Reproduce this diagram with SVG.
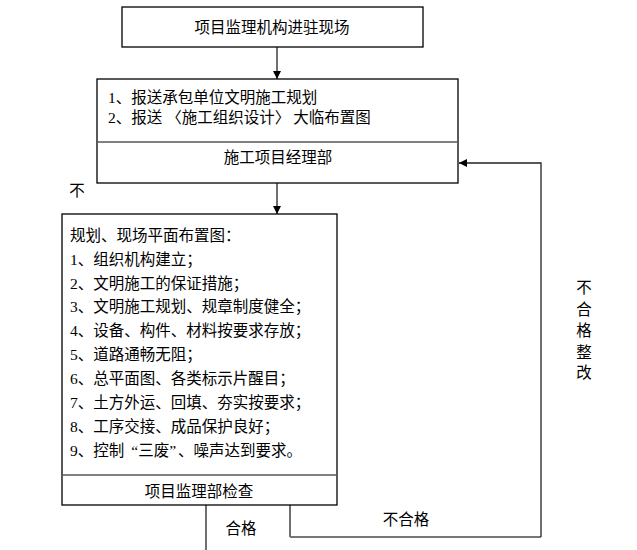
<svg xmlns="http://www.w3.org/2000/svg" width="637" height="550" viewBox="0 0 637 550">
<defs>
<style>
text{font-family:"Liberation Serif","Noto Sans CJK SC",serif;font-size:15.5px;fill:#000}
.box{fill:#fff;stroke:#000;stroke-width:1.3}
.div{stroke:#808080;stroke-width:2}
.ln{fill:none;stroke:#222;stroke-width:1.3}
.gl{fill:none;stroke:#777;stroke-width:2}
.c{text-anchor:middle}
</style>
<marker id="ah" viewBox="0 0 10 10" refX="10" refY="5" markerWidth="8" markerHeight="8" markerUnits="userSpaceOnUse" orient="auto">
<path d="M0,0 L10,5 L0,10 z" fill="#000"/>
</marker>
</defs>
<rect width="637" height="550" fill="#fff"/>
<g id="connectors">
<line class="ln" x1="277" y1="47" x2="277" y2="79" marker-end="url(#ah)"/>
<line class="ln" x1="277" y1="183" x2="277" y2="214" marker-end="url(#ah)"/>
<polyline class="ln" points="290,505 290,537"/>
<polyline class="gl" points="290,537 541,537"/>
<polyline class="ln" points="541,537 541,163 459,163" marker-end="url(#ah)"/>
<line class="ln" x1="206" y1="505" x2="206" y2="550"/>
<text x="241" y="534" class="c">合格</text>
<text x="406" y="525" class="c">不合格</text>
<text x="584" y="293" class="c">不</text>
<text x="584" y="315" class="c">合</text>
<text x="584" y="336" class="c">格</text>
<text x="584" y="358" class="c">整</text>
<text x="584" y="378" class="c">改</text>
<text x="77" y="196" class="c">不</text>
</g>
<g id="node1">
<rect class="box" x="122" y="7" width="301" height="40"/>
<text x="272" y="33" class="c">项目监理机构进驻现场</text>
</g>
<g id="node2">
<rect class="box" x="97" y="79" width="361" height="104"/>
<line class="div" x1="98" y1="142" x2="457" y2="142"/>
<text x="108" y="103">1、报送承包单位文明施工规划</text>
<text x="108" y="123">2、报送<tspan dx="4">〈施工组织设计〉</tspan><tspan dx="3">大临布置图</tspan></text>
<text x="278" y="163" class="c">施工项目经理部</text>
</g>
<g id="node3">
<rect class="box" x="62" y="214" width="275" height="291"/>
<line class="div" x1="63" y1="475" x2="336" y2="475"/>
<text x="70" y="241">规划、现场平面布置图：</text>
<text x="70" y="265">1、组织机构建立；</text>
<text x="70" y="289">2、文明施工的保证措施；</text>
<text x="70" y="312">3、文明施工规划、规章制度健全；</text>
<text x="70" y="336">4、设备、构件、材料按要求存放；</text>
<text x="70" y="360">5、道路通畅无阻；</text>
<text x="70" y="384">6、总平面图、各类标示片醒目；</text>
<text x="70" y="408">7、土方外运、回填、夯实按要求；</text>
<text x="70" y="432">8、工序交接、成品保护良好；</text>
<text x="70" y="456">9、控制<tspan dx="7">“</tspan>三废”<tspan dx="2">、噪声达到要求。</tspan></text>
<text x="199" y="497" class="c">项目监理部检查</text>
</g>
</svg>
